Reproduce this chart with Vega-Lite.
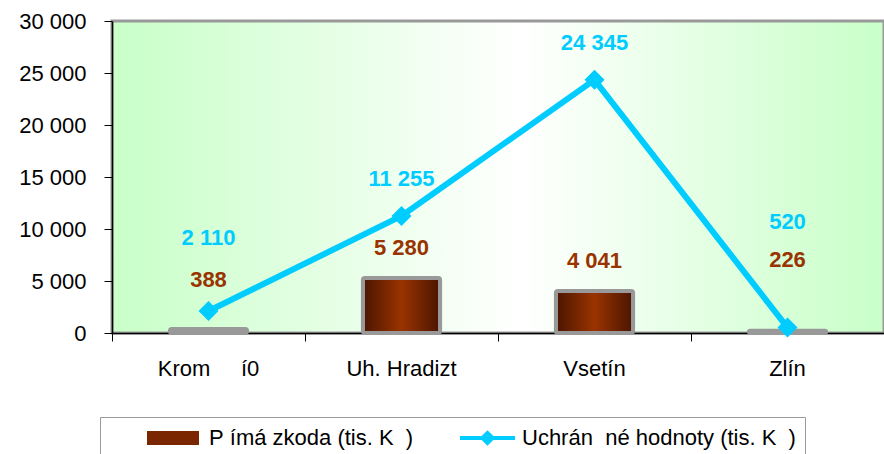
{
  "$schema": "https://vega.github.io/schema/vega-lite/v6.json",
  "width": 772,
  "height": 312,
  "autosize": "none",
  "padding": {"left": 112, "top": 21, "right": 0, "bottom": 121},
  "background": "white",
  "config": {
    "locale": {"number": {"decimal": ",", "thousands": " ", "grouping": [3], "currency": ["", " Kč"]}},
    "font": "Liberation Sans",
    "view": {
      "stroke": "#999999",
      "strokeWidth": 3,
      "fill": {
        "gradient": "linear", "x1": 0, "x2": 1, "y1": 0, "y2": 0,
        "stops": [
          {"offset": 0, "color": "#c8ffc8"},
          {"offset": 0.53, "color": "#ffffff"},
          {"offset": 1, "color": "#c8ffc8"}
        ]
      }
    }
  },
  "data": {
    "values": [
      {"region": "Krom\u00a0\u00a0\u00a0\u00a0\u00a0í0", "skoda": 388, "uchranene": 2110},
      {"region": "Uh. Hradizt", "skoda": 5280, "uchranene": 11255},
      {"region": "Vsetín", "skoda": 4041, "uchranene": 24345},
      {"region": "Zlín", "skoda": 226, "uchranene": 520}
    ]
  },
  "encoding": {
    "x": {
      "field": "region", "type": "nominal", "sort": null,
      "scale": {"paddingInner": 0, "paddingOuter": 0},
      "axis": {
        "title": null, "labelAngle": 0, "labelFontSize": 22, "labelColor": "#000000",
        "labelPadding": 17, "domainColor": "#000000", "domainWidth": 1.5, "tickColor": "#000000",
        "tickSize": 8, "bandPosition": 0, "grid": false
      }
    }
  },
  "layer": [
    {
      "mark": {
        "type": "bar",
        "width": {"band": 0.4},
        "stroke": "#999999",
        "strokeWidth": 4,
        "cornerRadius": 2,
        "fill": {
          "gradient": "linear", "x1": 0, "x2": 1, "y1": 0, "y2": 0,
          "stops": [
            {"offset": 0, "color": "#4a1500"},
            {"offset": 0.5, "color": "#9a3300"},
            {"offset": 1, "color": "#4a1500"}
          ]
        }
      },
      "encoding": {
        "y": {
          "field": "skoda", "type": "quantitative",
          "scale": {"domain": [0, 30000], "nice": false},
          "axis": {
            "title": null, "values": [0, 5000, 10000, 15000, 20000, 25000, 30000],
            "format": ",d", "labelFontSize": 22, "labelColor": "#000000", "labelPadding": 18,
            "domainColor": "#000000", "domainWidth": 1.5, "tickColor": "#000000", "tickSize": 8, "grid": false
          }
        }
      }
    },
    {
      "mark": {"type": "line", "strokeWidth": 6, "color": "#00CCFF", "point": {"shape": "diamond", "size": 400, "filled": true, "color": "#00CCFF"}},
      "encoding": {
        "y": {"field": "uchranene", "type": "quantitative"},
        "color": {
          "datum": "Uchrán\u00a0\u00a0né hodnoty (tis. K\u00a0\u00a0)",
          "scale": {
            "domain": ["P\u00a0ímá zkoda (tis. K\u00a0\u00a0)", "Uchrán\u00a0\u00a0né hodnoty (tis. K\u00a0\u00a0)"],
            "range": ["#7a2600", "#00CCFF"]
          },
          "legend": {
            "title": null,
            "orient": "none",
            "legendX": -12,
            "legendY": 396,
            "direction": "horizontal",
            "labelFontSize": 22,
            "labelColor": "#000000",
            "labelLimit": 600,
            "labelOffset": 76,
            "columnPadding": 8,
            "symbolSize": 400,
            "symbolStrokeWidth": 4,
            "padding": 9,
            "strokeColor": "#999999",
            "fillColor": "#ffffff",
            "labelExpr": "indexof(datum.label, 'Uchr') < 0 ? datum.label : datum.label + '\u00a0\u00a0\u00a0\u00a0\u00a0\u00a0\u00a0\u00a0'",
            "encode": {
              "symbols": {
                "update": {
                  "shape": {"signal": "indexof(datum.value, 'Uchr') < 0 ? 'M2.8,-0.5H7.6V0.5H2.8Z' : 'M2.6,0H8.1M4.85,0L5.35,-0.5L5.85,0L5.35,0.5Z'"},
                  "fill": {"signal": "indexof(datum.value, 'Uchr') < 0 ? '#7a2600' : '#00CCFF'"},
                  "stroke": {"signal": "indexof(datum.value, 'Uchr') < 0 ? '#999999' : '#00CCFF'"},
                  "strokeWidth": {"value": 4},
                  "opacity": {"value": 1}
                }
              }
            }
          }
        }
      }
    },
    {
      "mark": {
        "type": "text", "fontSize": 22, "fontWeight": "bold", "color": "#993300",
        "baseline": "middle", "align": "center",
        "dy": {"expr": "datum.skoda < 300 ? -71 : datum.skoda < 1000 ? -49 : -30"}
      },
      "encoding": {
        "y": {"field": "skoda", "type": "quantitative"},
        "text": {"field": "skoda", "type": "quantitative", "format": ",d"}
      }
    },
    {
      "mark": {
        "type": "text", "fontSize": 22, "fontWeight": "bold", "color": "#00CCFF",
        "baseline": "middle", "align": "center",
        "dy": {"expr": "datum.uchranene < 1000 ? -106 : datum.uchranene < 5000 ? -73 : -37"}
      },
      "encoding": {
        "y": {"field": "uchranene", "type": "quantitative"},
        "text": {"field": "uchranene", "type": "quantitative", "format": ",d"}
      }
    }
  ]
}
